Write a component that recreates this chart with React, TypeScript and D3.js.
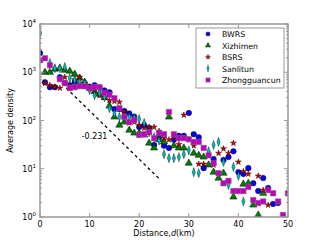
import React, { useEffect, useRef } from "react";
import * as d3 from "d3";

// distance (km) per series and average density values
const bwrsD = [0, 1, 2, 3, 4, 5, 6, 7, 8, 9, 10, 11, 12, 13, 14, 15, 16, 17, 18, 19, 20, 21, 22, 23, 24, 25, 26, 27, 28, 29, 30, 31, 32, 33, 35, 37, 38, 39, 40, 41, 42, 43, 44, 45, 46, 47, 48];
const bwrsV = [2500, 620, 490, 490, 790, 600, 540, 625, 550, 520, 500, 540, 480, 420, 385, 172, 172, 157, 140, 120, 73, 80, 70, 31, 45, 30, 27, 40, 48, 48, 143, 52, 45, 10.3, 15.9, 15.2, 17.5, 23, 8.5, 7.8, 10.3, 5.0, 3.45, 6.4, 4.0, 1.86, 1.95];

const xizD = [1, 2, 3, 4, 5, 6, 7, 8, 9, 10, 11, 12, 13, 14, 15, 16, 17, 18, 19, 20, 21, 22, 23, 24, 25, 26, 27, 28, 29, 30, 31, 32, 33, 34, 35, 36, 37, 39, 41, 42, 43, 44, 45];
const xizV = [1000, 1000, 1160, 1210, 1100, 1050, 910, 755, 625, 470, 400, 350, 300, 200, 118, 80, 93, 63, 55, 55, 50, 34, 27, 40, 36, 118, 30, 27, 27, 13.1, 21, 19, 17.5, 12, 8.5, 6.4, 8.1, 2.6, 4.8, 5.0, 1.77, 1.1, 3.1];

const bsrsD = [0, 1, 2, 3, 4, 5, 6, 7, 8, 9, 10, 11, 12, 13, 14, 15, 16, 17, 18, 19, 20, 21, 22, 23, 24, 25, 26, 27, 28, 29, 30, 31, 32, 33, 35, 36, 37, 38, 39, 40, 41, 42, 44, 45, 46];
const bsrsV = [1780, 595, 540, 500, 470, 790, 520, 700, 790, 595, 490, 420, 330, 300, 260, 250, 240, 150, 89, 93, 80, 70, 73, 73, 60, 43, 40, 45, 32, 130, 40, 30, 12.5, 12.5, 12, 21, 26, 21, 34, 13.8, 8.8, 7.8, 7.1, 3.6, 1.77];

const sanD = [0, 2, 3, 4, 5, 6, 7, 8, 9, 10, 11, 12, 13, 14, 15, 16, 17, 18, 19, 20, 21, 22, 23, 24, 25, 26, 27, 28, 29, 30, 31, 32, 34, 35, 36, 37, 38, 39, 40, 41];
const sanV = [6450, 1550, 1210, 1210, 1280, 755, 690, 625, 595, 425, 335, 370, 305, 180, 140, 118, 118, 118, 112, 107, 89, 57, 45, 38, 20, 16.6, 16.6, 17.5, 20, 24, 8.5, 8.1, 23, 31, 36, 13.8, 4.6, 10.9, 7.1, 2.1];

const zgcD = [0, 1, 2, 4, 5, 6, 7, 8, 9, 10, 11, 12, 13, 14, 15, 16, 17, 18, 19, 20, 21, 22, 23, 24, 25, 26, 27, 28, 29, 30, 31, 32, 33, 34, 35, 36, 37, 38, 39, 40, 41, 42, 43, 44, 45, 46, 47, 48, 49, 50];
const zgcV = [1780, 1950, 1400, 720, 595, 470, 490, 515, 515, 470, 490, 490, 370, 340, 290, 180, 118, 93, 102, 50, 52, 57, 43, 55, 52, 150, 52, 43, 43, 41, 36, 36, 27, 19, 13.1, 8.1, 5.0, 5.6, 3.45, 3.45, 3.45, 4.2, 2.25, 1.95, 2.1, 3.6, 3.1, 2.1, 1.1, 3.1];

const seriesNames = ["BWRS", "Xizhimen", "BSRS", "Sanlitun", "Zhongguancun"];
const xTicks = [0, 10, 20, 30, 40, 50];
const yExps = [0, 1, 2, 3, 4];

// fitted slope line
const fitSlope = -0.231;
const fitStart = [5.3, 470];
const fitEndD = 23.9;

const App = () => {
	const ref = useRef<SVGSVGElement>(null);

	useEffect(() => {
		const svg = d3.select(ref.current);
		svg.selectAll("*").remove();

		const margin = { top: 24, right: 32, bottom: 23, left: 40 };
		const width = 320 - margin.left - margin.right;
		const height = 240 - margin.top - margin.bottom;
		const font = "DejaVu Sans";

		const x = d3.scaleLinear().domain([0, 50]).range([0, width]);
		const y = d3.scaleLog().domain([1, 10000]).range([height, 0]);

		const g = svg.append("g").attr("transform", `translate(${margin.left},${margin.top})`);

		g.append("defs")
			.append("clipPath")
			.attr("id", "clip")
			.append("rect")
			.attr("width", width)
			.attr("height", height);

		// fitted line
		const fitEndV = fitStart[1] * Math.exp(fitSlope * (fitEndD - fitStart[0]));
		g.append("line")
			.attr("x1", x(fitStart[0]))
			.attr("y1", y(fitStart[1]))
			.attr("x2", x(fitEndD))
			.attr("y2", y(fitEndV))
			.attr("stroke", "black")
			.attr("stroke-width", 1.3)
			.attr("stroke-dasharray", "3,3");

		g.append("text")
			.attr("x", x(11))
			.attr("y", y(42))
			.attr("text-anchor", "middle")
			.attr("font-family", font)
			.attr("font-size", 8)
			.text("-0.231");

		const sym = {
			circle: d3.symbol().type(d3.symbolCircle).size(24),
			triangle: d3.symbol().type(d3.symbolTriangle).size(22),
			star: d3.symbol().type(d3.symbolStar).size(11),
			diamond: d3.symbol().type(d3.symbolDiamond).size(24),
			square: d3.symbol().type(d3.symbolSquare).size(30),
		};

		const series = [
			{ d: bwrsD, v: bwrsV, shape: sym.circle, fill: "#0000ff", edge: "#000", sx: 1 },
			{ d: xizD, v: xizV, shape: sym.triangle, fill: "#007f00", edge: "#000", sx: 1 },
			{ d: bsrsD, v: bsrsV, shape: sym.star, fill: "#bf0000", edge: "#400", sx: 1 },
			{ d: sanD, v: sanV, shape: sym.diamond, fill: "#00bfbf", edge: "#000", sx: 0.6 },
			{ d: zgcD, v: zgcV, shape: sym.square, fill: "#bf00bf", edge: "#777", sx: 1 },
		];

		const pts = g.append("g").attr("clip-path", "url(#clip)");
		series.forEach((s) => {
			pts.append("g")
				.selectAll("path")
				.data(s.d.map((d, i) => [d, s.v[i]]))
				.join("path")
				.attr("d", s.shape)
				.attr("transform", (p) => `translate(${x(p[0])},${y(p[1])}) scale(${s.sx},1)`)
				.attr("fill", s.fill)
				.attr("stroke", s.edge)
				.attr("stroke-width", 0.5);
		});

		// frame
		const frame = "#999";
		g.append("rect")
			.attr("width", width)
			.attr("height", height)
			.attr("fill", "none")
			.attr("stroke", frame)
			.attr("stroke-width", 1.5);

		// x ticks
		xTicks.forEach((t) => {
			g.append("line").attr("x1", x(t)).attr("x2", x(t)).attr("y1", height).attr("y2", height - 4).attr("stroke", frame);
			g.append("line").attr("x1", x(t)).attr("x2", x(t)).attr("y1", 0).attr("y2", 4).attr("stroke", frame);
			g.append("text")
				.attr("x", x(t))
				.attr("y", height + 10)
				.attr("text-anchor", "middle")
				.attr("font-family", font)
				.attr("font-size", 8)
				.text(t);
		});

		// y ticks
		yExps.forEach((e) => {
			const v = Math.pow(10, e);
			g.append("line").attr("x1", 0).attr("x2", 4).attr("y1", y(v)).attr("y2", y(v)).attr("stroke", frame);
			g.append("line").attr("x1", width).attr("x2", width - 4).attr("y1", y(v)).attr("y2", y(v)).attr("stroke", frame);
			const t = g.append("text")
				.attr("x", -4)
				.attr("y", y(v) + 3)
				.attr("text-anchor", "end")
				.attr("font-family", font)
				.attr("font-size", 8);
			t.append("tspan").text("10");
			t.append("tspan").attr("dy", -4).attr("font-size", 5.5).text(e);
			if (e < 4) {
				for (let m = 2; m < 10; m++) {
					const mv = m * v;
					g.append("line").attr("x1", 0).attr("x2", 2).attr("y1", y(mv)).attr("y2", y(mv)).attr("stroke", frame);
					g.append("line").attr("x1", width).attr("x2", width - 2).attr("y1", y(mv)).attr("y2", y(mv)).attr("stroke", frame);
				}
			}
		});

		// axis labels
		const xl = g.append("text")
			.attr("x", width / 2)
			.attr("y", height + 19)
			.attr("text-anchor", "middle")
			.attr("font-family", font)
			.attr("font-size", 8);
		xl.append("tspan").text("Distance,");
		xl.append("tspan").attr("font-style", "italic").text("d");
		xl.append("tspan").text("(km)");

		g.append("text")
			.attr("transform", `translate(-27,${height / 2}) rotate(-90)`)
			.attr("text-anchor", "middle")
			.attr("font-family", font)
			.attr("font-size", 8)
			.text("Average density");

		// legend
		const lg = g.append("g").attr("transform", `translate(${196 - margin.left},${28 - margin.top})`);
		lg.append("rect")
			.attr("width", 88)
			.attr("height", 60)
			.attr("fill", "white")
			.attr("stroke", frame)
			.attr("stroke-width", 1);
		const legSym = [
			d3.symbol().type(d3.symbolCircle).size(14),
			d3.symbol().type(d3.symbolTriangle).size(12),
			d3.symbol().type(d3.symbolStar).size(8),
			d3.symbol().type(d3.symbolDiamond).size(14),
			d3.symbol().type(d3.symbolSquare).size(18),
		];
		seriesNames.forEach((name, i) => {
			const s = series[i];
			const yy = 6 + i * 11.5;
			lg.append("path")
				.attr("d", legSym[i])
				.attr("transform", `translate(12,${yy}) scale(${s.sx},1)`)
				.attr("fill", s.fill)
				.attr("stroke", s.edge)
				.attr("stroke-width", 0.4);
			lg.append("text")
				.attr("x", 26)
				.attr("y", yy + 3)
				.attr("font-family", font)
				.attr("font-size", 7.8)
				.text(name);
		});
	}, []);

	return (
		<svg
			ref={ref}
			width={320}
			height={240}
			style={{ position: "absolute", left: 0, top: 0, background: "white" }}
		/>
	);
};

export default App;
